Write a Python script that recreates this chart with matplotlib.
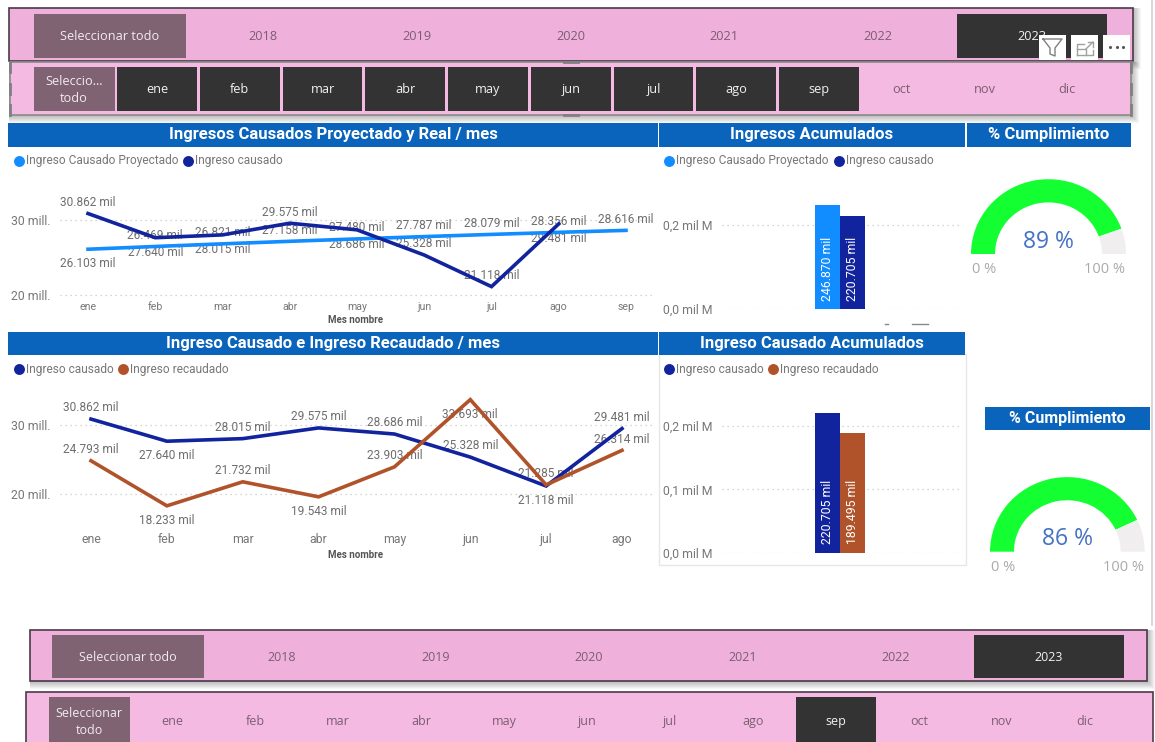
import matplotlib
matplotlib.use("Agg")
import matplotlib.pyplot as plt
from matplotlib.patches import Rectangle

plt.rcParams["font.family"] = ["Open Sans", "DejaVu Sans"]
NARROW = ["Roboto", "DejaVu Sans"]

# ---------------- DATA ----------------
YEARS = ["2018", "2019", "2020", "2021", "2022", "2023"]
MONTHS = ["ene", "feb", "mar", "abr", "may", "jun", "jul", "ago", "sep", "oct", "nov", "dic"]

proyectado = [26103, 26469, 26821, 27158, 27480, 27787, 28079, 28356, 28616]
causado = [30862, 27640, 28015, 29575, 28686, 25328, 21118, 29481]
recaudado = [24793, 18233, 21732, 19543, 23903, 33693, 21285, 26314]

acum_names_1 = ["Ingreso Causado Proyectado", "Ingreso causado"]
acum_values_1 = [246870, 220705]
acum_names_2 = ["Ingreso causado", "Ingreso recaudado"]
acum_values_2 = [220705, 189495]

cumplimiento_1 = 89
cumplimiento_2 = 86

# label side for each point, 1 above the line and -1 below
proy_side = [-1, 1, 1, 1, 1, 1, 1, 1, 1]
caus_side_1 = [1, -1, -1, 1, -1, 1, 1, -1]
caus_side_2 = [1, -1, 1, 1, 1, 1, -1, 1]
reca_side = [1, -1, 1, -1, 1, -1, 1, 1]

# ---------------- STYLE ----------------
W, H = 1155, 742
PINK = "#F0B0DC"
PINK2 = "#F5BAE2"
MAUVE = "#7F6373"
DARK = "#333333"
HEAD = "#0B64BC"
LIGHT_BLUE = "#118DFF"
NAVY = "#12239E"
BROWN = "#B1532A"
GREEN = "#14FF32"
GAUGE_BG = "#F0EEEE"
GREY = "#777777"
TXT = "#7A5E70"

fig = plt.figure(figsize=(W / 100, H / 100), dpi=100, facecolor="white")
bg = fig.add_axes([0, 0, 1, 1], zorder=0)
bg.set_xlim(0, W)
bg.set_ylim(H, 0)
bg.axis("off")


def px_axes(x0, y0, x1, y1, zorder=2):
    ax = fig.add_axes([x0 / W, 1 - y1 / H, (x1 - x0) / W, (y1 - y0) / H], zorder=zorder)
    ax.patch.set_alpha(0)
    return ax


def box(x0, y0, x1, y1, color, edge="none", lw=0, z=1, alpha=1):
    bg.add_patch(Rectangle((x0, y0), x1 - x0, y1 - y0, fc=color, ec=edge, lw=lw, zorder=z, alpha=alpha))


def shadow(x0, y0, x1, y1, z=0.5):
    for i in range(1, 9):
        box(x0, y0, x1 + i, y1 + i, "#000000", z=z, alpha=0.035)


def slicer(frame, color, sel, labels, first_x, step, dark, sel_text, size=9.2, edge="#4A3A48"):
    box(frame[0], frame[1], frame[2], frame[3], color, edge=edge, lw=1.2, z=1)
    box(sel[0], sel[1], sel[2], sel[3], MAUVE, z=2)
    mid = (sel[1] + sel[3]) / 2 + 0.8
    bg.text((sel[0] + sel[2]) / 2, mid, sel_text, color="#F2EAF0", fontsize=size, ha="center", va="center",
            linespacing=1.35, zorder=4)
    for i, lab in enumerate(labels):
        cx = first_x + i * step
        on = lab in dark
        if on:
            box(cx - step / 2 + 1.5, sel[1], cx + step / 2 - 1.5, min(sel[3], H), DARK, z=2)
        bg.text(cx, mid, lab, color="#F2F2F2" if on else TXT, fontsize=size, ha="center", va="center", zorder=4)


def header(x0, y0, x1, y1, title, size=12):
    box(x0, y0, x1, y1, HEAD, z=2)
    bg.text((x0 + x1) / 2, (y0 + y1) / 2, title, color="white", fontsize=size, fontweight="bold",
            family=NARROW, ha="center", va="center", zorder=3)


def legend(items, y):
    for dot_x, text_x, color, name in items:
        bg.scatter([dot_x], [y], s=62, color=color, zorder=3, linewidths=0)
        bg.text(text_x, y, name, color=GREY, fontsize=8.6, family=NARROW, ha="left", va="center", zorder=3)


def line_chart(box_px, x_px, y_px, series, labels, tick_size, pad, label_pad):
    x0, y0, x1, y1 = box_px
    ax = px_axes(x0, y0, x1, y1)
    n = len(labels)
    per_x = (x_px[1] - x_px[0]) / (n - 1)
    ax.set_xlim((x0 - x_px[0]) / per_x, (n - 1) + (x1 - x_px[1]) / per_x)
    per_y = (y_px[0] - y_px[1]) / 10000
    ax.set_ylim(20000 - (y1 - y_px[0]) / per_y, 30000 + (y_px[1] - y0) / per_y)
    ax.set_yticks([20000, 30000], ["20 mill.", "30 mill."])
    ax.set_xticks(range(n), labels)
    ax.tick_params(axis="y", length=0, pad=7, labelsize=8.8, labelcolor=GREY)
    ax.tick_params(axis="x", length=0, pad=pad, labelsize=tick_size, labelcolor=GREY)
    for lab in ax.get_xticklabels() + ax.get_yticklabels():
        lab.set_family(NARROW)
    ax.grid(axis="y", linestyle=(0, (1, 3)), color="#C8C8C8", linewidth=0.9)
    ax.set_axisbelow(True)
    for s in ax.spines.values():
        s.set_visible(False)
    ax.set_xlabel("Mes nombre", fontsize=7, fontweight="bold", family=NARROW, color="#555555", labelpad=label_pad)
    for values, sides, color in series:
        ax.plot(range(len(values)), values, color=color, lw=2.6, zorder=5, solid_joinstyle="miter")
        for i, v in enumerate(values):
            off = 8 if sides[i] > 0 else -10.5
            txt = f"{v / 1000:.3f} mil"
            ax.annotate(txt, (i, v), xytext=(0, off), textcoords="offset points", ha="center", va="center",
                        fontsize=8.6, family=NARROW, color="#6E6E6E", zorder=2)
    return ax


def bar_chart(box_px, y0_px, y_per_unit, names, values, colors, ticks, tick_labels):
    x0, y0, x1, y1 = box_px
    ax = px_axes(x0, y0, x1, y1)
    # bars 25 px wide, centred on 840 px
    ax.set_xlim((x0 - 827.8) / 25, (x1 - 827.8) / 25)
    ax.set_ylim(0, (y0_px - y0) / y_per_unit)
    ax.bar(range(len(values)), values, width=1.0, color=colors, zorder=3)
    for i, v in enumerate(values):
        ax.annotate(f"{v / 1000:.3f} mil", (i, 0), xytext=(0, 6), textcoords="offset points", rotation=90,
                    ha="center", va="bottom", color="white", fontsize=8.8, family=NARROW, zorder=4)
    ax.set_yticks(ticks, tick_labels)
    ax.set_xticks([])
    ax.tick_params(axis="y", length=0, pad=6.5, labelsize=8.8, labelcolor=GREY)
    for lab in ax.get_yticklabels():
        lab.set_family(NARROW)
    ax.grid(axis="y", linestyle=(0, (1, 3)), color="#C8C8C8", linewidth=0.9)
    ax.set_axisbelow(True)
    for s in ax.spines.values():
        s.set_visible(False)
    return ax


def gauge(cx, cy, r, pct):
    # the screenshot is slightly squashed, so the arc is a bit flatter than a circle
    ry = r * 0.965
    ax = px_axes(cx - r, cy - ry, cx + r, cy + ry)
    ax.pie([pct, 100 - pct, 100], colors=[GREEN, GAUGE_BG, "none"], startangle=180, counterclock=False,
           radius=1, wedgeprops={"width": 0.31, "linewidth": 0})
    ax.set_aspect("auto")
    ax.set_xlim(-1, 1)
    ax.set_ylim(-1, 1)
    bg.text(cx, cy - 12.5, f"{pct} %", color="#4472C4", fontsize=16.5, ha="center", va="center", zorder=3)
    bg.text(cx - 64, cy + 15.5, "0 %", color="#AAAAAA", fontsize=10.5, ha="center", va="center", zorder=3)
    bg.text(cx + 56, cy + 15.5, "100 %", color="#AAAAAA", fontsize=10.5, ha="center", va="center", zorder=3)


# ---------------- SLICERS ----------------
bg.plot([1151.5, 1151.5], [0, 625], color="#CFCFCF", lw=1.2, zorder=0.2)

shadow(9, 8, 1133, 61)
slicer((9, 8, 1133, 61), PINK, (34, 13.5, 186, 58), YEARS, 263, 153.8, ["2023"], "Seleccionar todo")
shadow(9, 62, 1131, 115)
slicer((10, 62, 1131, 115), PINK2, (34, 67, 114.5, 111), MONTHS, 157, 82.75, MONTHS[:9], "Seleccio...\ntodo",
       edge="#8A8A8A")

# selection handles around the focused slicer
for hx, hy0, hy1 in [(10, 62, 72), (10, 105, 115), (1131, 62, 72), (1131, 105, 115), (10, 84, 94), (1131, 84, 94)]:
    bg.plot([hx, hx], [hy0, hy1], color="#808080", lw=2, zorder=5)
for hy in [62, 115]:
    bg.plot([564, 578], [hy, hy], color="#808080", lw=2, zorder=5)

# hover icons of the visual
for x0 in [1039, 1071, 1103]:
    box(x0, 35, x0 + 27, 60, "white", z=6)
bg.plot([1043, 1062, 1055, 1055, 1050, 1050, 1043], [39, 39, 48, 56, 54, 48, 39], color="#808080", lw=1, zorder=7)
bg.plot([1077, 1077, 1084], [55, 44, 44], color="#A0A0A0", lw=1, zorder=7)
bg.plot([1077, 1093, 1093], [55, 55, 50], color="#A0A0A0", lw=1, zorder=7)
bg.plot([1077, 1086, 1086], [49, 49, 55], color="#A0A0A0", lw=1, zorder=7)
bg.plot([1086, 1093], [49, 42], color="#A0A0A0", lw=1, zorder=7)
bg.plot([1088, 1093, 1093], [42, 42, 47], color="#A0A0A0", lw=1, zorder=7)
bg.scatter([1110, 1116.5, 1123], [47, 47, 47], s=5, color="#555555", zorder=7, linewidths=0)

shadow(29.5, 630, 1147, 681)
slicer((29.5, 630, 1147, 681), PINK, (52, 635, 204, 678), YEARS, 282, 153.4, ["2023"], "Seleccionar todo", size=9)
slicer((26, 692, 1153, 745), PINK2, (48.6, 697, 129.7, 745), MONTHS, 172, 83, ["sep"], "Seleccionar\ntodo", size=9)

# ---------------- HEADERS / LEGENDS ----------------
header(8, 123, 658, 146.5, "Ingresos Causados Proyectado y Real / mes")
header(659, 123, 965, 146.5, "Ingresos Acumulados")
header(967, 123, 1131, 146.5, "% Cumplimiento")
box(659, 354, 966, 565, "white", edge="#E6E6E6", lw=1, z=1)
header(8, 332, 658, 354.5, "Ingreso Causado e Ingreso Recaudado / mes")
header(659, 332, 965, 354.5, "Ingreso Causado Acumulados")
header(985, 407, 1150, 429.5, "% Cumplimiento", size=11.5)

legend([(18.5, 26, LIGHT_BLUE, "Ingreso Causado Proyectado"), (188, 195, NAVY, "Ingreso causado")], 160.5)
legend([(669, 676, LIGHT_BLUE, "Ingreso Causado Proyectado"), (838.5, 845.5, NAVY, "Ingreso causado")], 160.5)
legend([(18.5, 26, NAVY, "Ingreso causado"), (122.5, 130, BROWN, "Ingreso recaudado")], 369)
legend([(669, 676, NAVY, "Ingreso causado"), (773, 780, BROWN, "Ingreso recaudado")], 369)

# ---------------- CHARTS ----------------
line_chart((60, 190, 652, 298), (88, 626), (295, 220),
           [(proyectado, proy_side, LIGHT_BLUE), (causado, caus_side_1, NAVY)],
           MONTHS[:9], 7.6, 3, 2)
line_chart((60, 395, 652, 525), (91, 622), (493.7, 425),
           [(causado, caus_side_2, NAVY), (recaudado, reca_side, BROWN)],
           MONTHS[:8], 8.8, 6, 3)

bar_chart((722, 195, 959, 309), 309, 84 / 200000, acum_names_1, acum_values_1, [LIGHT_BLUE, NAVY],
          [0, 200000], ["0,0 mil M", "0,2 mil M"])
bar_chart((722, 400, 959, 552.7), 552.7, 126.7 / 200000, acum_names_2, acum_values_2, [NAVY, BROWN],
          [0, 100000, 200000], ["0,0 mil M", "0,1 mil M", "0,2 mil M"])

# clipped marks under the first bar chart
bg.plot([885, 888], [324, 324], color="#888888", lw=1, zorder=3)
bg.plot([912, 928], [324, 324], color="#888888", lw=1, zorder=3)

gauge(1048.5, 254, 77.5, cumplimiento_1)
gauge(1067.3, 551.7, 77.3, cumplimiento_2)

fig.savefig("out.png", dpi=100)
